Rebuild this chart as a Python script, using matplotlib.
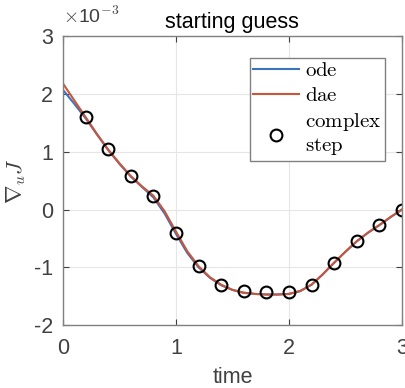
import matplotlib
matplotlib.use("Agg")
import matplotlib.pyplot as plt

plt.rcParams['axes.unicode_minus'] = False
plt.rcParams['mathtext.fontset'] = 'cm'
plt.rcParams['font.family'] = ['Liberation Sans', 'DejaVu Sans']

# values in units of 1e-3
t_curve = [0.0, 0.1, 0.2, 0.3, 0.4, 0.5, 0.6, 0.7, 0.8, 0.9, 1.0,
           1.1, 1.2, 1.3, 1.4, 1.5, 1.6, 1.7, 1.8, 1.9, 2.0,
           2.1, 2.2, 2.3, 2.4, 2.5, 2.6, 2.7, 2.8, 2.9, 3.0]
ode = [2.07, 1.83, 1.58, 1.30, 1.03, 0.79, 0.57, 0.39, 0.21, -0.07, -0.42,
       -0.75, -1.00, -1.18, -1.31, -1.39, -1.44, -1.46, -1.47, -1.47, -1.46,
       -1.41, -1.30, -1.12, -0.92, -0.73, -0.55, -0.40, -0.27, -0.13, 0.0]
dae = [2.18, 1.89, 1.60, 1.31, 1.04, 0.80, 0.58, 0.40, 0.24, -0.03, -0.38,
       -0.72, -0.98, -1.17, -1.30, -1.39, -1.44, -1.46, -1.47, -1.47, -1.46,
       -1.41, -1.30, -1.12, -0.92, -0.73, -0.55, -0.40, -0.27, -0.13, 0.0]

t_cs = [0.2, 0.4, 0.6, 0.8, 1.0, 1.2, 1.4, 1.6, 1.8, 2.0, 2.2, 2.4, 2.6, 2.8, 3.0]
cs = [1.60, 1.05, 0.58, 0.23, -0.40, -0.97, -1.30, -1.41, -1.42, -1.42,
      -1.30, -0.92, -0.55, -0.26, 0.0]

gray = '#404040'

fig = plt.figure(figsize=(4.06, 3.88), dpi=100)
ax = fig.add_axes([0.155, 0.162, 0.835, 0.745])

ax.plot(t_curve, ode, color='#3a73c0', lw=1.5, label=r'$\mathrm{ode}$')
ax.plot(t_curve, dae, color='#c9553b', lw=1.5, label=r'$\mathrm{dae}$')
ax.plot(t_cs, cs, 'o', mfc='none', mec='black', mew=1.5, ms=8.5,
        label=r'$\mathrm{complex}$' + '\n' + r'$\mathrm{step}$')

ax.set_xlim(0, 3)
ax.set_ylim(-2, 3)
ax.set_xticks([0, 1, 2, 3])
ax.set_yticks([-2, -1, 0, 1, 2, 3])
ax.grid(True, color='#e6e6e6', lw=0.8)
ax.set_axisbelow(True)
ax.tick_params(direction='in', top=True, right=True, labelsize=15.5,
               colors=gray, length=4)
ax.tick_params(axis='x', pad=9)
ax.tick_params(axis='y', pad=7)
for s in ax.spines.values():
    s.set_color('#808080')
    s.set_linewidth(1.0)

ax.set_xlabel('time', fontsize=15.5, color=gray, labelpad=6)
ax.set_ylabel(r'$\nabla_u J$', fontsize=16, color=gray, labelpad=4)
ax.set_title('starting guess', fontsize=15.5, color='black', pad=6)
ax.text(0.0, 1.03, r'$\times$10$^{-3}$', transform=ax.transAxes,
        fontsize=14, color=gray, ha='left', va='bottom')

leg = ax.legend(loc='upper right', bbox_to_anchor=(0.948, 0.851),
                bbox_transform=fig.transFigure, fontsize=15,
                fancybox=False, framealpha=1, edgecolor='#808080',
                handlelength=2.2, handletextpad=0.3, borderpad=0.15,
                labelspacing=0.3, borderaxespad=0)
leg.get_frame().set_linewidth(1.0)

fig.savefig('out.png', dpi=100)
